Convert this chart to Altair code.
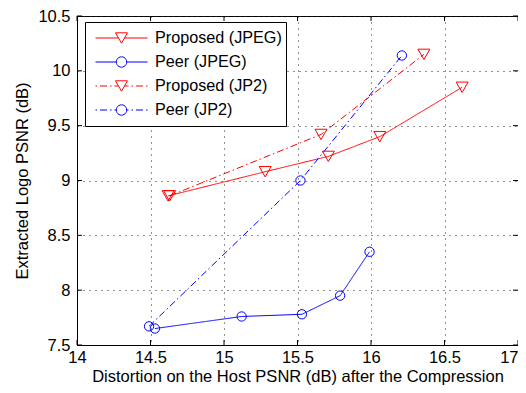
import altair as alt
import pandas as pd
import numpy as np

# ---------------- data ----------------
series = ["Proposed (JPEG)", "Peer (JPEG)", "Proposed (JP2)", "Peer (JP2)"]

prop_jpeg_x = [14.62, 15.28, 15.71, 16.06, 16.62]
prop_jpeg_y = [8.86, 9.08, 9.22, 9.40, 9.85]

peer_jpeg_x = [14.53, 15.12, 15.53, 15.79, 15.99]
peer_jpeg_y = [7.65, 7.76, 7.78, 7.95, 8.35]

prop_jp2_x = [14.63, 15.66, 16.36]
prop_jp2_y = [8.86, 9.42, 10.15]

peer_jp2_x = [14.49, 15.52, 16.21]
peer_jp2_y = [7.67, 9.00, 10.14]

x_ticks = [14, 14.5, 15, 15.5, 16, 16.5, 17]
y_ticks = [7.5, 8, 8.5, 9, 9.5, 10, 10.5]

rows = []
for name, xs, ys in [
    (series[0], prop_jpeg_x, prop_jpeg_y),
    (series[1], peer_jpeg_x, peer_jpeg_y),
    (series[2], prop_jp2_x, prop_jp2_y),
    (series[3], peer_jp2_x, peer_jp2_y),
]:
    for i, (a, b) in enumerate(zip(xs, ys)):
        rows.append({"series": name, "x": a, "y": b, "order": i})
df = pd.DataFrame(rows)

# ---------------- style ----------------
W, H = 441, 329
FONT = "Liberation Sans"
FS = 16.5
colors = ["#ff0000", "#0000ff", "#ff0000", "#0000ff"]
dashes = [[1, 0], [1, 0], [7, 3, 1.5, 3], [7, 3, 1.5, 3]]

xscale = alt.Scale(domain=[14, 17], nice=False, zero=False)
yscale = alt.Scale(domain=[7.5, 10.5], nice=False, zero=False)

common_axis = dict(
    format="~g", grid=True, gridDash=[1, 5], gridColor="#222", gridWidth=1,
    tickSize=0, domainColor="black", domainWidth=1,
    labelFont=FONT, labelFontSize=FS, labelColor="black",
    titleFont=FONT, titleFontSize=FS, titleFontWeight="normal", titleColor="black",
)
x_axis = alt.Axis(values=x_ticks, title="Distortion on the Host PSNR (dB) after the Compression",
                  labelPadding=4, titleBaseline="alphabetic", titleY=36,
                  labelAlign={"condition": {"test": "datum.value == 17", "value": "right"},
                              "value": "center"},
                  **common_axis)
y_axis = alt.Axis(values=y_ticks, title="Extracted Logo PSNR (dB)",
                  labelPadding=7, titlePadding=7, **common_axis)

X = alt.X("x:Q", scale=xscale, axis=x_axis)
Y = alt.Y("y:Q", scale=yscale, axis=y_axis)


def col(legend=None):
    return alt.Color("series:N", scale=alt.Scale(domain=series, range=colors), legend=legend)


lines = alt.Chart(df).mark_line(strokeWidth=1).encode(
    x=X, y=Y, color=col(),
    strokeDash=alt.StrokeDash("series:N", scale=alt.Scale(domain=series, range=dashes), legend=None),
    order="order:Q",
)

tri = alt.Chart(df).transform_filter(
    alt.FieldOneOfPredicate(field="series", oneOf=[series[0], series[2]])
).mark_point(shape="triangle-down", size=144, filled=False, strokeWidth=1, opacity=1).encode(
    x=X, y=Y, color=col()
)

circ = alt.Chart(df).transform_filter(
    alt.FieldOneOfPredicate(field="series", oneOf=[series[1], series[3]])
).mark_point(shape="circle", size=87, filled=False, strokeWidth=1, opacity=1).encode(
    x=X, y=Y, color=col()
)

# inward tick marks on all four sides
xt = pd.DataFrame({"x": x_ticks})
yt = pd.DataFrame({"y": y_ticks})
TL = 5
tick_bottom = alt.Chart(xt).mark_rule(color="black", strokeWidth=1).encode(
    x=X, y=alt.value(H), y2=alt.value(H - TL))
tick_top = alt.Chart(xt).mark_rule(color="black", strokeWidth=1).encode(
    x=X, y=alt.value(0), y2=alt.value(TL))
tick_left = alt.Chart(yt).mark_rule(color="black", strokeWidth=1).encode(
    y=Y, x=alt.value(0), x2=alt.value(TL))
tick_right = alt.Chart(yt).mark_rule(color="black", strokeWidth=1).encode(
    y=Y, x=alt.value(W), x2=alt.value(W - TL))

# ---------------- legend symbols: line sample + marker ----------------
S = 26.0  # half-width of the legend sample in px (unit 1 of the path)


def seg_path(a, b):
    return f"M{a / S:.4f},0L{b / S:.4f},0"


def side_segments(edge, dashdot):
    out = []
    if not dashdot:
        out.append((-S, -edge))
    else:
        pattern = [(1.5, True), (3, False), (7, True), (3, False)]
        pos, k = -S, 0
        while pos < -edge:
            length, draw = pattern[k % 4]
            end = min(pos + length, -edge)
            if draw:
                out.append((pos, end))
            pos = end
            k += 1
    segs = "".join(seg_path(a, b) for a, b in out)
    segs += "".join(seg_path(-b, -a) for a, b in out)
    return segs


tri_half = 6.0
tri_h = 0.866 * tri_half
tri_marker = (f"M0,{tri_h / S:.4f}L{tri_half / S:.4f},{-tri_h / S:.4f}"
              f"L{-tri_half / S:.4f},{-tri_h / S:.4f}Z")
rad = 5.2
ang = np.linspace(0, 2 * np.pi, 25)[:-1]
circ_marker = "M" + "L".join(f"{rad * np.cos(a) / S:.4f},{rad * np.sin(a) / S:.4f}" for a in ang) + "Z"

legend_paths = [
    side_segments(tri_half / 2, False) + tri_marker,
    side_segments(rad, False) + circ_marker,
    side_segments(tri_half / 2, True) + tri_marker,
    side_segments(rad, True) + circ_marker,
]

leg = alt.Legend(
    title=None, orient="none", legendX=8, legendY=6, padding=4,
    strokeColor="black", fillColor="white",
    symbolSize=int(4 * S * S), symbolStrokeWidth=1, symbolOffset=6,
    symbolFillColor="transparent",
    labelOffset=7, labelFont=FONT, labelFontSize=16.2, labelColor="black", labelLimit=400,
    clipHeight=24, rowPadding=0,
)

leg_df = pd.DataFrame({"series": series})
legend_layer = alt.Chart(leg_df).mark_point(opacity=0, filled=False).encode(
    color=alt.Color("series:N", scale=alt.Scale(domain=series, range=colors), legend=leg),
    shape=alt.Shape("series:N", scale=alt.Scale(domain=series, range=legend_paths), legend=leg),
)

chart = alt.layer(
    lines, tri, circ, tick_bottom, tick_top, tick_left, tick_right, legend_layer
).resolve_scale(
    color="independent", shape="independent", strokeDash="independent"
).properties(
    width=W, height=H,
    padding={"left": 69, "top": 8, "right": 0, "bottom": 40},
    autosize=alt.AutoSizeParams(type="none"),
    background="white",
).configure_view(stroke="black", strokeWidth=1)

chart.save("out.html", embed_options={"renderer": "svg", "actions": False})
